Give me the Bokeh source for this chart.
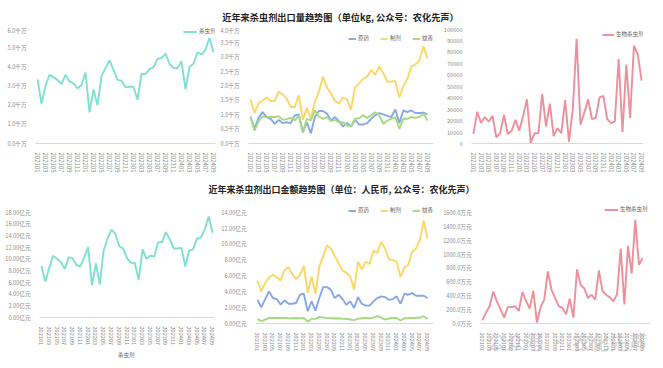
from bokeh.plotting import figure
from bokeh.models import Range1d, FixedTicker, Legend, LegendItem, Div, PrintfTickFormatter
from bokeh.layouts import column, row
from bokeh.embed import file_html
from bokeh.resources import INLINE

FONT = "Noto Sans CJK SC"

months = [f"{y}{m:02d}" for y in (2021, 2022, 2023, 2024) for m in range(1, 13)][:45]
x = list(range(45))

# 出口量 (千万 kg)
qty_total = [3.35, 2.08, 3.0, 3.58, 3.46, 3.32, 3.1, 3.58, 3.23, 3.14, 2.87, 3.05, 3.7, 1.62, 2.82,
             1.99, 3.53, 3.93, 4.34, 3.84, 3.32, 3.28, 2.93, 2.96, 2.96, 2.29, 3.63, 3.63, 3.88, 3.97,
             4.41, 4.46, 4.69, 4.16, 3.93, 3.93, 4.29, 2.82, 3.99, 4.16, 4.76, 4.64, 4.9, 5.52, 4.76]
qty_tech = [0.94, 0.51, 0.89, 1.09, 0.92, 0.86, 0.68, 0.82, 0.71, 0.74, 0.71, 0.98, 1.01, 0.39, 0.74,
            0.35, 0.92, 1.13, 1.13, 1.04, 0.8, 0.92, 0.78, 0.59, 0.71, 0.59, 0.82, 0.66, 0.66, 0.71,
            0.86, 0.98, 1.06, 1.01, 0.96, 0.92, 1.18, 0.71, 1.15, 1.09, 1.15, 1.06, 1.06, 1.07, 1.01]
qty_form = [1.53, 1.06, 1.39, 1.5, 1.6, 1.48, 1.48, 1.8, 1.71, 1.56, 1.27, 1.27, 1.68, 0.82, 1.24,
            0.86, 1.45, 1.8, 2.33, 1.95, 1.74, 1.48, 1.39, 1.6, 1.53, 1.18, 1.95, 2.09, 2.25, 2.33,
            2.56, 2.39, 2.68, 2.45, 2.15, 2.15, 2.18, 1.6, 2.0, 2.24, 2.68, 2.74, 2.89, 3.39, 2.96]
qty_coil = [0.92, 0.45, 0.78, 0.94, 0.92, 0.92, 0.92, 0.95, 0.82, 0.85, 0.89, 0.8, 0.98, 0.39, 0.86,
            0.8, 1.15, 0.94, 0.86, 0.92, 0.78, 0.82, 0.74, 0.74, 0.62, 0.59, 0.86, 0.88, 0.98, 0.89,
            0.98, 1.09, 0.98, 0.68, 0.8, 0.86, 0.92, 0.51, 0.86, 0.86, 0.92, 0.89, 0.92, 1.04, 0.8]
qty_bio = [8300, 27500, 17800, 23000, 19000, 24000, 5300, 9000, 25000, 8300, 11000, 20700, 11200,
           24000, 38500, 600, 8900, 8900, 43000, 14800, 34600, 6500, 13300, 8900, 37800, 1500, 29600,
           91000, 16300, 26600, 38500, 21300, 22200, 40000, 41400, 21300, 17800, 19200, 73400, 9800,
           68600, 22200, 85000, 77500, 54700]

# 出口金额 (亿元 / 万元)
amt_total = [8.84, 6.16, 8.47, 10.6, 10.07, 9.53, 8.3, 10.34, 10.18, 9.0, 8.73, 10.34, 12.05, 5.52,
             9.27, 5.68, 11.52, 13.55, 15.05, 14.35, 12.21, 11.84, 10.18, 9.37, 9.37, 6.48, 11.68,
             10.07, 10.6, 10.45, 12.91, 12.91, 14.62, 13.44, 11.84, 11.84, 11.94, 8.73, 11.52, 11.68,
             13.55, 13.66, 15.16, 17.3, 14.52]
amt_tech = [3.0, 2.05, 3.09, 4.05, 3.22, 3.09, 2.38, 2.93, 2.5, 2.5, 2.59, 3.64, 3.76, 1.55, 2.8,
            1.63, 3.22, 4.6, 4.6, 4.26, 3.22, 3.64, 3.09, 2.38, 2.8, 1.96, 3.34, 2.5, 2.26, 2.26,
            2.8, 3.22, 3.43, 3.34, 3.0, 3.09, 3.43, 2.5, 3.76, 3.64, 3.84, 3.51, 3.51, 3.51, 3.22]
amt_form = [5.43, 4.05, 5.1, 5.85, 6.14, 5.85, 5.43, 6.77, 7.1, 6.27, 5.6, 6.14, 7.27, 3.84, 5.93,
            3.76, 7.19, 8.52, 9.9, 9.49, 8.52, 7.6, 6.69, 6.44, 5.93, 4.26, 7.81, 6.85, 7.81, 7.52,
            9.19, 8.94, 10.32, 9.49, 8.11, 8.02, 7.81, 5.85, 7.1, 7.4, 9.07, 9.49, 10.53, 13.04, 10.74]
amt_coil = [0.58, 0.3, 0.5, 0.7, 0.7, 0.7, 0.7, 0.7, 0.67, 0.67, 0.7, 0.67, 0.7, 0.25, 0.58,
            0.58, 0.84, 0.75, 0.7, 0.67, 0.63, 0.67, 0.58, 0.58, 0.5, 0.42, 0.58, 0.67, 0.7, 0.67,
            0.75, 0.92, 0.75, 0.5, 0.63, 0.7, 0.7, 0.38, 0.67, 0.67, 0.7, 0.7, 0.75, 0.92, 0.58]
amt_bio = [47, 156, 251, 464, 322, 204, 85, 237, 237, 251, 180, 454, 331, 218, 473, 14, 237, 346,
           757, 487, 369, 251, 227, 132, 360, 85, 786, 559, 511, 369, 417, 346, 772, 473, 417, 379,
           322, 426, 1089, 275, 1127, 724, 1505, 852, 947]

TEAL = "#7fe0d2"
BLUE = "#86a8e6"
YELLOW = "#fcd764"
GREEN = "#a6da7f"
PINK = "#ee8f9c"
TICK_COLOR = "#8c8c8c"


def make_fig(W, H, L, R, T, B, yend, yticks, yfmt, xfs="6px", xend=44.5):
    p = figure(width=W, height=H, x_range=Range1d(-0.5, xend), y_range=Range1d(0, yend),
               output_backend="svg", toolbar_location=None,
               min_border_left=L, min_border_right=R, min_border_top=T, min_border_bottom=B,
               margin=(0, 0, 0, 0))
    p.outline_line_color = None
    p.background_fill_color = None
    p.border_fill_color = None
    p.xgrid.visible = False
    p.ygrid.visible = False
    xa = p.xaxis[0]
    xa.ticker = FixedTicker(ticks=list(range(0, 45, 2)))
    xa.major_label_overrides = {i: months[i] for i in range(0, 45, 2)}
    xa.major_label_orientation = "vertical"
    xa.major_label_text_font_size = xfs
    xa.major_label_text_color = TICK_COLOR
    xa.major_label_text_font = FONT
    xa.axis_line_color = "#d9d9d9"
    xa.major_tick_line_color = None
    xa.minor_tick_line_color = None
    xa.major_label_standoff = 3
    ya = p.yaxis[0]
    ya.ticker = FixedTicker(ticks=yticks)
    ya.formatter = PrintfTickFormatter(format=yfmt)
    ya.major_label_text_font_size = "5.6px"
    ya.major_label_text_color = TICK_COLOR
    ya.major_label_text_font = FONT
    ya.axis_line_color = None
    ya.major_tick_line_color = None
    ya.minor_tick_line_color = None
    ya.major_label_standoff = 3
    return p


def make_legend(items, loc, gw, spacing=4):
    return Legend(items=[LegendItem(label=l, renderers=[r]) for l, r in items], location=loc,
                  orientation="horizontal", label_text_font_size="5.5px", label_text_color="#666666",
                  label_text_font=FONT, glyph_width=gw, glyph_height=7, label_height=7,
                  label_standoff=2, padding=0, spacing=spacing, margin=0, border_line_color=None,
                  background_fill_alpha=0)


LW = 1.9

# ---- top row (y 26..180) ----
p1 = make_fig(217, 154, 35, 2, 1, 37, 6.0, [0, 1, 2, 3, 4, 5, 6], "%.1f千万")
r = p1.line(x, qty_total, color=TEAL, line_width=LW)
p1.add_layout(make_legend([("杀虫剂", r)], (148, 108), 14))

p2 = make_fig(223, 154, 31, 7, 1, 37, 4.0, [0, 0.5, 1, 1.5, 2, 2.5, 3, 3.5, 4], "%.1f千万",
              xend=45.5)
rb = p2.line(x, qty_tech, color=BLUE, line_width=LW)
ry = p2.line(x, qty_form, color=YELLOW, line_width=LW)
rg = p2.line(x, qty_coil, color=GREEN, line_width=LW)
p2.add_layout(make_legend([("原药", rb), ("制剂", ry), ("蚊香", rg)], (100, 101), 8, spacing=2))

p3 = make_fig(223, 154, 23, 20, 2, 37, 100000, list(range(0, 100001, 10000)), "%d")
r = p3.line(x, qty_bio, color=PINK, line_width=LW)
p3.add_layout(make_legend([("生物杀虫剂", r)], (131, 105), 12))

# ---- bottom row (y 198..360) ----
p4 = make_fig(217, 150, 39, 3, 14, 24, 18.0, list(range(0, 19, 2)), "%.2f亿元", "5.6px")
p4.line(x, amt_total, color=TEAL, line_width=LW)

# legend strip under the bottom-left chart
lf = figure(width=217, height=12, x_range=Range1d(0, 217), y_range=Range1d(0, 12),
            output_backend="svg", toolbar_location=None, x_axis_location=None,
            y_axis_location=None, min_border_left=0, min_border_right=0,
            min_border_top=0, min_border_bottom=0, margin=(0, 0, 0, 0))
lf.xgrid.visible = False
lf.ygrid.visible = False
lf.outline_line_color = None
lf.background_fill_color = None
lf.border_fill_color = None
rl = lf.line(x=[], y=[], color=TEAL, line_width=LW)
lf.add_layout(make_legend([("杀虫剂", rl)], (62, 1), 15))

p5 = make_fig(223, 162, 38, 7, 7, 36, 14.92, list(range(0, 15, 2)), "%.2f亿元", "5.6px",
              xend=45.53)
rb = p5.line(x, amt_tech, color=BLUE, line_width=LW)
ry = p5.line(x, amt_form, color=YELLOW, line_width=LW)
rg = p5.line(x, amt_coil, color=GREEN, line_width=LW)
p5.add_layout(make_legend([("原药", rb), ("制剂", ry), ("蚊香", rg)], (93, 109), 8, spacing=2))

p6 = make_fig(223, 162, 32, 13, 4, 37, 1713, list(range(0, 1601, 200)), "%.1f万元", "5.6px",
              xend=46.18)
r = p6.line(x, amt_bio, color=PINK, line_width=LW)
p6.add_layout(make_legend([("生物杀虫剂", r)], (124, 110), 14))

t1 = Div(text="<div style=\"width:663px;box-sizing:border-box;font-family:'Noto Sans CJK SC';"
              "font-weight:bold;font-size:9.2px;color:#222;text-align:center;padding-left:18px;"
              "padding-top:8px;line-height:18px;white-space:nowrap;\">"
              "近年来杀虫剂出口量趋势图（单位kg, 公众号：农化先声）</div>",
         width=663, height=26, margin=(0, 0, 0, 0))
t2 = Div(text="<div style=\"position:relative;width:663px;height:18px;box-sizing:border-box;"
              "font-family:'Noto Sans CJK SC';font-weight:bold;font-size:9px;color:#222;"
              "text-align:center;padding-left:20px;line-height:19px;white-space:nowrap;\">"
              "近年来杀虫剂出口金额趋势图（单位：人民币, 公众号：农化先声）"
              "<div style=\"position:absolute;left:487px;top:151px;font-weight:normal;font-size:19px;"
              "line-height:22px;color:#bbbbbb;opacity:0.55;text-align:left;pointer-events:none;\">"
              "公众号 · 农化先声</div></div>",
         width=663, height=18, margin=(0, 0, 0, 0))

layout = column(t1, row(p1, p2, p3), t2, row(column(p4, lf), p5, p6))
open("out.html", "w").write(file_html(layout, INLINE))
